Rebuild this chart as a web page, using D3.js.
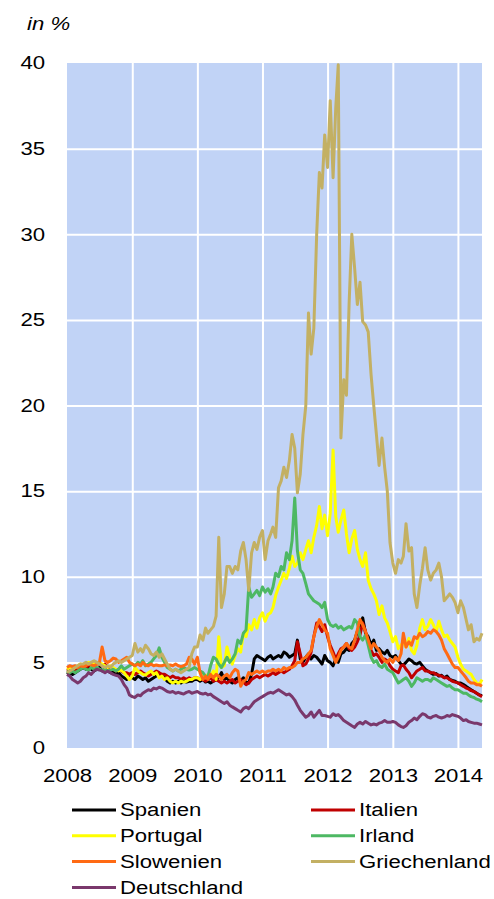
<!DOCTYPE html>
<html lang="de">
	<head>
		<meta charset="utf-8">
		<title>Renditen Staatsanleihen</title>
		<script type="text/javascript" src="https://cdn.jsdelivr.net/npm/d3@7/dist/d3.min.js"></script>
		<style type="text/css">
            body{margin:0;background:#fff;font-family:"Liberation Sans",Arial,sans-serif;}
            .axis text{font-size:18px;fill:#000;font-family:"Liberation Sans",Arial,sans-serif;}
            .grid line{stroke:#fff;stroke-width:2px;}
            .legend text{font-size:18px;}
		</style>
	</head>
	<body>
    <div id="chart1"></div>
		<script type="text/javascript">
            // half-monthly readings (1st and 16th), Jan 2008 - mid May 2014
            var countries = ["Spanien","Italien","Portugal","Irland","Slowenien","Griechenland","Deutschland"]
            var colors = ["#000000","#c00000","#ffff00","#4db863","#ff6a13","#c3b063","#7a386c"]
            var yTicks = [0,5,10,15,20,25,30,35,40]

            var spanien = [4.3,4.4,4.3,4.4,4.5,4.6,4.7,4.6,4.7,4.6,4.5,4.6,
                4.7,4.5,4.6,4.5,4.4,4.5,4.3,4.4,4.2,4.1,4.0,4.1,
                4.1,4.0,4.2,4.1,4.0,4.1,3.9,4.0,4.1,4.2,4.3,4.2,
                4.1,3.9,3.8,3.9,3.8,3.9,3.8,3.9,3.85,3.9,3.9,4.0,
                4.0,3.9,4.0,3.85,3.9,3.8,3.9,4.0,4.1,4.4,4.0,4.1,
                3.9,3.8,4.0,4.1,3.9,4.1,3.85,3.8,4.3,5.2,5.4,5.3,
                5.2,5.1,5.3,5.4,5.2,5.3,5.4,5.3,5.6,5.5,5.3,5.4,
                5.5,6.3,5.2,5.0,5.3,5.5,5.2,5.4,5.3,5.1,4.9,5.4,
                5.1,5.0,4.8,5.2,5.0,5.5,5.6,5.8,5.7,6.1,6.3,6.8,
                7.2,7.6,6.7,6.5,6.0,6.3,5.7,5.8,5.6,5.5,5.7,5.4,
                5.3,5.4,5.1,4.9,4.85,5.0,5.2,5.1,4.95,4.9,5.0,4.8,
                4.6,4.5,4.4,4.3,4.35,4.2,4.25,4.1,4.2,4.0,3.95,3.9,
                3.8,3.8,3.7,3.6,3.5,3.4,3.3,3.2,3.1,3.05]
            var italien = [4.5,4.6,4.5,4.6,4.7,4.8,4.8,4.7,4.8,4.9,4.8,4.9,
                4.9,4.8,4.9,4.7,4.7,4.6,4.5,4.6,4.5,4.4,4.4,4.3,
                4.4,4.3,4.4,4.5,4.4,4.3,4.2,4.3,4.4,4.5,4.4,4.3,
                4.3,4.2,4.1,4.2,4.1,4.1,4.0,4.1,4.0,4.1,4.0,4.1,
                4.1,4.0,4.0,3.9,4.0,4.1,3.9,4.0,3.9,3.8,3.9,3.8,
                3.9,4.0,3.8,3.9,4.0,3.85,3.7,3.8,4.0,4.1,4.2,4.1,
                4.2,4.3,4.2,4.3,4.4,4.3,4.4,4.5,4.4,4.5,4.6,4.8,
                5.1,6.2,5.5,4.8,4.9,5.2,5.6,6.5,7.3,7.1,6.8,7.2,
                6.5,6.0,5.6,5.2,5.5,5.8,5.9,6.1,5.8,5.7,5.9,6.2,
                6.6,7.3,6.8,6.2,5.7,5.4,5.5,5.3,5.0,5.2,5.1,4.8,
                4.6,4.5,4.4,4.8,4.85,4.6,4.4,4.1,4.3,4.5,4.6,4.7,
                4.5,4.5,4.4,4.4,4.3,4.25,4.2,4.1,4.1,4.0,3.9,3.85,
                3.8,3.7,3.6,3.5,3.45,3.35,3.3,3.2,3.1,3.0]
            var portugal = [4.6,4.7,4.6,4.7,4.8,4.9,4.8,4.9,5.0,4.9,5.0,4.9,
                5.0,4.9,4.8,4.7,4.8,4.7,4.6,4.5,4.55,4.4,4.2,4.0,
                4.2,4.7,4.5,4.4,4.3,4.26,4.4,4.5,4.3,4.4,4.1,4.2,
                4.0,4.1,3.9,3.8,3.9,3.8,3.9,3.85,3.9,4.0,4.0,4.1,
                4.1,4.0,4.2,4.1,4.3,4.2,4.5,4.0,6.5,4.7,4.8,5.9,
                5.3,4.9,5.4,5.8,5.6,6.7,6.5,7.2,6.9,7.5,7.0,7.6,
                7.9,7.4,7.8,7.9,8.2,8.9,9.4,9.8,10.2,9.9,10.5,11.2,
                10.6,10.8,11.4,11.0,11.6,12.1,11.4,12.3,13.0,14.1,12.8,13.6,
                12.4,13.7,17.4,13.5,12.6,13.3,13.9,12.5,11.4,12.2,12.7,11.6,
                11.0,10.6,11.4,9.8,9.3,9.0,8.6,7.8,8.3,7.6,7.3,6.8,
                6.2,6.5,5.8,6.0,6.2,5.9,6.4,5.7,5.5,6.0,7.0,7.5,
                6.9,7.1,7.5,7.2,6.8,7.4,6.9,6.5,6.6,6.3,6.1,5.9,
                5.3,4.9,4.6,4.5,4.4,4.3,4.0,3.8,3.7,4.0]
            var irland = [4.5,4.4,4.5,4.4,4.5,4.6,4.7,4.6,4.55,4.7,4.6,4.7,
                4.6,4.55,4.6,4.5,4.55,4.6,4.5,4.6,4.8,4.6,4.7,4.8,
                4.9,4.8,5.0,4.9,5.1,4.8,4.9,5.0,5.2,5.4,5.85,5.3,
                5.0,4.7,4.6,4.5,4.6,4.5,4.6,4.7,4.6,4.55,4.6,4.7,
                4.6,4.5,4.4,4.2,4.15,4.8,5.3,5.2,4.9,4.7,5.0,5.3,
                5.0,5.2,5.5,6.3,6.1,6.7,6.9,9.4,8.8,9.0,9.2,8.9,
                9.4,9.1,9.3,9.0,9.4,10.2,10.0,10.6,10.4,11.4,11.0,12.1,
                14.6,11.5,10.4,10.2,9.6,9.0,8.8,8.6,8.5,8.4,8.2,8.5,
                7.5,7.2,7.1,7.2,7.0,7.1,6.9,7.0,7.1,7.0,7.5,7.3,
                6.5,6.3,6.6,6.0,5.3,5.0,5.1,4.8,4.7,4.9,4.6,4.5,
                4.4,4.1,3.8,3.9,4.0,4.1,3.9,3.6,3.8,4.1,4.0,3.9,
                4.0,4.0,3.9,4.1,4.0,3.9,3.8,3.7,3.6,3.65,3.5,3.4,
                3.4,3.3,3.2,3.2,3.1,3.0,2.95,2.85,2.8,2.7]
            var slowenien = [4.7,4.8,4.75,4.8,4.7,4.8,4.75,4.8,4.9,4.85,4.8,4.9,
                5.0,5.9,5.1,5.0,5.1,5.25,5.2,5.0,5.1,5.2,5.3,5.0,
                4.9,4.8,4.9,4.8,5.0,4.85,4.8,4.9,4.8,4.85,4.8,4.8,
                4.85,4.8,4.85,4.8,4.9,4.8,4.75,4.8,4.9,5.3,5.2,4.9,
                5.3,4.4,4.0,4.2,4.0,4.3,4.1,4.3,4.2,4.0,4.2,4.3,
                4.1,4.4,4.6,4.5,3.6,3.9,4.0,4.4,4.3,4.4,4.5,4.4,
                4.5,4.4,4.5,4.5,4.6,4.5,4.6,4.5,4.7,4.6,4.7,4.7,
                4.8,5.0,5.0,5.2,5.3,5.5,5.7,6.5,7.1,7.5,7.2,6.9,
                6.7,5.8,5.4,5.0,5.3,5.7,5.9,6.1,5.9,5.8,6.3,6.9,
                7.5,7.2,6.8,6.3,5.8,6.1,5.9,5.7,5.3,5.1,5.0,5.2,
                5.0,5.3,5.1,5.5,6.7,5.9,6.2,6.0,6.5,6.4,6.7,6.5,
                6.6,6.8,6.7,6.9,6.8,6.6,6.3,5.8,5.5,5.2,4.9,4.7,
                4.7,4.5,4.3,4.1,3.9,3.8,3.8,3.7,3.7,3.6]
            var griechenland = [4.4,4.5,4.6,4.7,4.8,4.9,4.9,5.0,4.9,5.0,5.1,5.0,
                4.9,4.8,4.7,4.8,4.7,4.9,5.0,5.1,5.0,5.1,5.2,5.3,
                5.4,6.1,5.6,5.8,5.6,6.0,5.8,5.5,5.4,5.6,5.3,5.5,
                5.2,4.9,4.6,4.5,4.6,4.5,4.4,4.5,4.6,4.7,5.5,5.9,
                5.9,6.6,6.3,7.0,6.7,6.9,7.1,7.7,12.3,8.2,9.0,10.6,
                10.6,10.2,10.6,10.4,11.5,12.0,11.0,9.2,11.4,12.0,11.6,12.3,
                12.7,11.0,12.1,12.5,12.9,12.3,15.2,15.6,16.4,15.8,16.8,18.3,
                17.5,14.9,16.0,18.3,20.0,25.4,23.0,24.5,30.0,33.6,32.7,35.8,
                33.9,37.8,33.3,37.4,39.9,18.1,21.5,20.6,26.0,30.0,28.0,25.9,
                27.2,24.9,24.7,24.3,21.8,20.0,18.3,16.5,18.1,16.4,15.0,12.0,
                10.8,10.2,11.0,10.8,11.2,13.1,11.5,11.7,9.0,8.2,9.5,10.5,
                11.7,10.4,9.8,10.2,10.4,10.8,10.0,8.6,8.8,9.0,8.8,8.5,
                7.9,8.6,8.2,7.5,6.9,7.2,6.2,6.4,6.3,6.7]
            var deutschland = [4.3,4.2,4.0,3.9,3.8,3.9,4.1,4.2,4.4,4.3,4.5,4.6,
                4.55,4.5,4.4,4.5,4.4,4.3,4.25,4.2,4.0,3.7,3.5,3.1,
                3.0,2.95,3.1,3.05,3.2,3.3,3.4,3.35,3.5,3.45,3.55,3.5,
                3.4,3.3,3.25,3.3,3.2,3.25,3.2,3.15,3.25,3.3,3.2,3.25,
                3.3,3.2,3.15,3.2,3.1,3.15,3.0,2.9,2.8,2.7,2.6,2.7,
                2.5,2.4,2.3,2.2,2.1,2.3,2.4,2.3,2.5,2.7,2.8,2.9,
                3.0,3.1,3.2,3.25,3.2,3.3,3.4,3.3,3.2,3.1,3.15,3.0,
                2.8,2.5,2.2,2.0,1.8,1.9,2.1,1.8,2.0,2.2,1.9,1.9,
                1.85,1.8,2.0,1.9,1.95,1.8,1.6,1.5,1.4,1.3,1.2,1.4,
                1.5,1.4,1.55,1.45,1.35,1.4,1.35,1.45,1.5,1.6,1.5,1.5,
                1.55,1.5,1.35,1.25,1.2,1.3,1.5,1.6,1.75,1.65,1.85,2.0,
                1.95,1.8,1.75,1.85,1.9,1.8,1.75,1.8,1.9,1.85,1.95,1.9,
                1.85,1.75,1.6,1.65,1.55,1.5,1.45,1.45,1.4,1.35]

            var seriesValues = [spanien,italien,portugal,irland,slowenien,griechenland,deutschland]

            // dates: 1st and 16th of every month
            var dates = []
            for(var yy=2008; yy<=2014; yy++){
                for(var mm=0; mm<12; mm++){
                    if(yy==2014 && mm>4) break
                    dates.push(new Date(yy,mm,1))
                    dates.push(new Date(yy,mm,16))
                }
            }

            var W = 494, H = 899
            var plotL = 67, plotR = 482, plotT = 63, plotB = 748
            var stretch = 1.23 // the source text is drawn a bit wider than normal

            var svg = d3.select("#chart1")
                        .append("svg")
                        .attr("width",W)
                        .attr("height",H)

            var xScale = d3.scaleTime().domain([dates[0],dates[dates.length-1]]).range([plotL,plotR])
            var yScale = d3.scaleLinear().domain([0,40]).range([plotB,plotT])

            //plot background
            svg.append("rect")
                .attr("x",plotL).attr("y",plotT)
                .attr("width",plotR-plotL).attr("height",plotB-plotT)
                .attr("fill","#c1d3f6")

            //white grid lines
            var yearTicks = d3.timeYear.range(new Date(2009,0,1),new Date(2014,1,1))
            svg.append("g")
                .attr("class","grid")
                .attr("transform","translate(0,"+plotB+")")
                .call(d3.axisBottom(xScale).tickValues(yearTicks).tickSize(-(plotB-plotT)).tickFormat(""))
                .call(function(g){g.select(".domain").remove()})
            svg.append("g")
                .attr("class","grid")
                .attr("transform","translate("+plotL+",0)")
                .call(d3.axisLeft(yScale).tickValues([5,10,15,20,25,30,35]).tickSize(-(plotR-plotL)).tickFormat(""))
                .call(function(g){g.select(".domain").remove()})

            //lines
            var line = d3.line()
                .x(function(d,i){ return xScale(dates[i]) })
                .y(function(d){ return yScale(d) })

            svg.selectAll(".series")
                .data(seriesValues)
                .enter()
                .append("path")
                .attr("class","series")
                .attr("d",line)
                .attr("fill","none")
                .attr("stroke",function(d,i){ return colors[i] })
                .attr("stroke-width",3)
                .attr("stroke-linejoin","round")

            //axes
            svg.append("g")
                .attr("class","axis")
                .attr("transform","translate("+plotL+",0)")
                .call(d3.axisLeft(yScale).tickValues(yTicks).tickSize(0).tickPadding(22))
                .call(function(g){g.select(".domain").remove()})

            svg.append("g")
                .attr("class","axis")
                .attr("transform","translate(0,"+plotB+")")
                .call(d3.axisBottom(xScale).ticks(d3.timeYear.every(1)).tickFormat(d3.timeFormat("%Y")).tickSize(0).tickPadding(21))
                .call(function(g){g.select(".domain").remove()})

            svg.append("text")
                .attr("x",27).attr("y",30)
                .attr("font-size","18px")
                .attr("font-style","italic")
                .text("in %")

            //legend, two columns
            var legend = svg.append("g").attr("class","legend")
            var items = legend.selectAll("g")
                .data(countries)
                .enter()
                .append("g")
                .attr("transform",function(d,i){
                    return "translate("+(i%2==0 ? 72 : 311)+","+(810+Math.floor(i/2)*25.8)+")"
                })
            items.append("line")
                .attr("x1",0).attr("x2",44)
                .attr("stroke",function(d,i){ return colors[i] })
                .attr("stroke-width",3)
            items.append("text")
                .attr("x",48)
                .attr("dy","0.36em")
                .text(function(d){ return d })

            //widen all texts
            svg.selectAll("text").each(function(){
                var len = this.getComputedTextLength()
                d3.select(this).attr("textLength",len*stretch).attr("lengthAdjust","spacingAndGlyphs")
            })
		</script>
	</body>
</html>
